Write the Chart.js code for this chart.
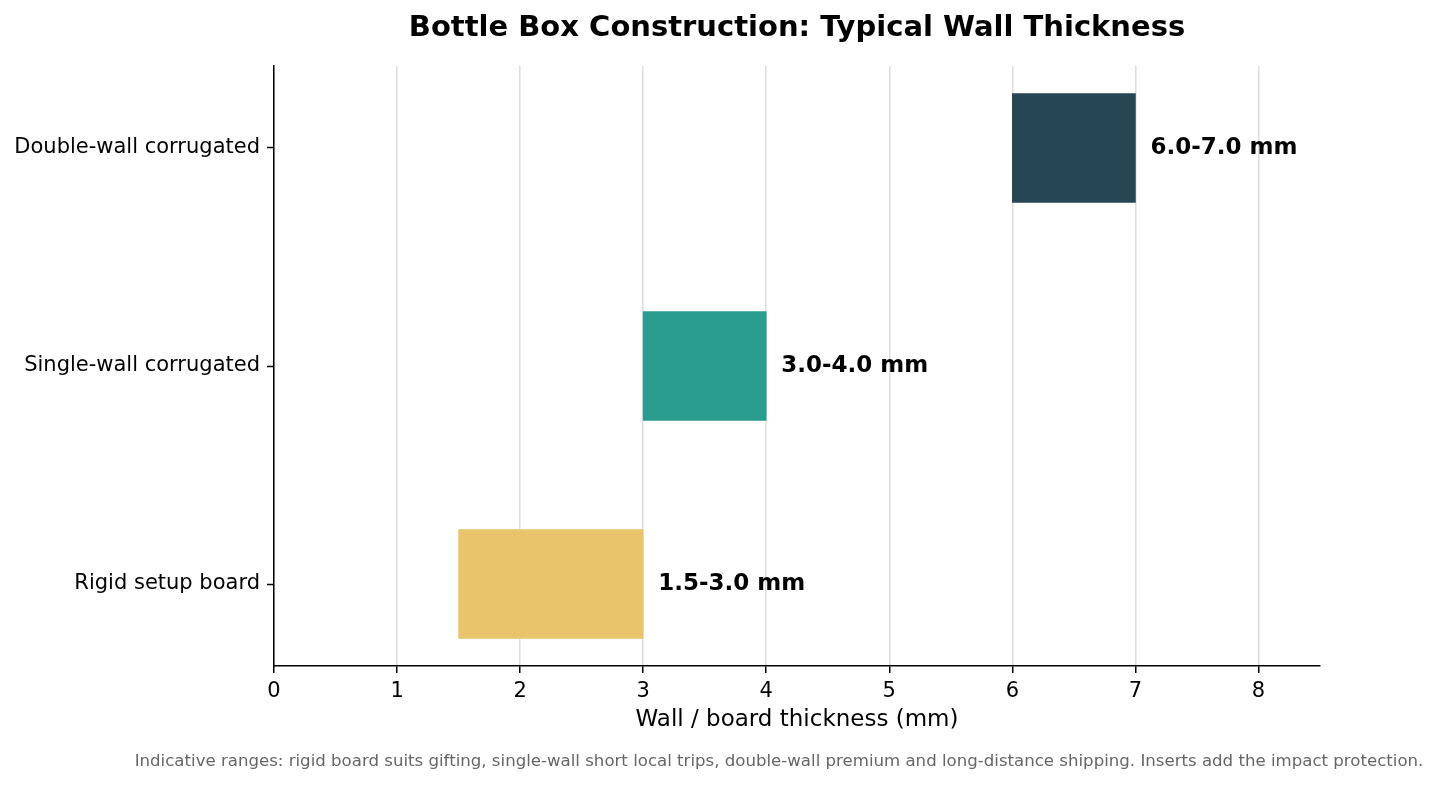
<!DOCTYPE html>
<html>
<head>
<meta charset="utf-8">
<script src="https://cdn.jsdelivr.net/npm/chart.js@4"></script>
<style>
  html, body { margin: 0; padding: 0; background: #fff; }
  #wrap { width: 1439px; height: 787px; position: relative; }
</style>
</head>
<body>
<div id="wrap"><canvas id="chart"></canvas></div>
<script>
const categories = ['Rigid setup board', 'Single-wall corrugated', 'Double-wall corrugated'];
const lowMM = [1.5, 3.0, 6.0];
const highMM = [3.0, 4.0, 7.0];
const barColors = ['#e9c46a', '#2a9d8f', '#264653'];
const xTicks = [0, 1, 2, 3, 4, 5, 6, 7, 8];

const titleText = 'Bottle Box Construction: Typical Wall Thickness';
const noteText = 'Indicative ranges: rigid board suits gifting, single-wall short local trips, double-wall premium and long-distance shipping. Inserts add the impact protection.';
const FONT = "'DejaVu Sans', sans-serif";

// title, footnote and end-of-bar labels
const textPlugin = {
  id: 'texts',
  afterDatasetsDraw(chart) {
    const ctx = chart.ctx;
    const meta = chart.getDatasetMeta(0);
    ctx.save();
    ctx.fillStyle = '#000';
    ctx.font = 'bold 23px ' + FONT;
    ctx.textBaseline = 'middle';
    ctx.textAlign = 'left';
    meta.data.forEach((bar, i) => {
      const label = lowMM[i].toFixed(1) + '-' + highMM[i].toFixed(1) + ' mm';
      ctx.fillText(label, bar.x + 15, bar.y);
    });
    ctx.textAlign = 'center';
    ctx.font = 'bold 29px ' + FONT;
    ctx.fillText(titleText, 797, 28);
    ctx.font = '16.6px ' + FONT;
    ctx.fillStyle = '#666';
    ctx.fillText(noteText, 779, 762);
    ctx.restore();
  }
};

new Chart(document.getElementById('chart'), {
  type: 'bar',
  data: {
    datasets: [{
      data: categories.map((c, i) => ({ x: [lowMM[i], highMM[i]], y: i })),
      backgroundColor: barColors,
      borderWidth: 0,
      barThickness: 109
    }]
  },
  plugins: [textPlugin],
  options: {
    indexAxis: 'y',
    responsive: true,
    maintainAspectRatio: false,
    animation: false,
    layout: { padding: { top: 66, right: 119, bottom: 45, left: 0 } },
    plugins: { legend: { display: false }, tooltip: { enabled: false } },
    scales: {
      x: {
        type: 'linear',
        min: 0,
        max: 8.5,
        afterBuildTicks: (axis) => { axis.ticks = xTicks.map(v => ({ value: v })); },
        afterFit: (axis) => { axis.height = 76; },
        border: { display: true, color: '#000', width: 1.5 },
        grid: { color: '#dddddd', lineWidth: 1.5, tickColor: '#000', tickLength: 7, tickWidth: 1.5 },
        ticks: { color: '#000', font: { family: FONT, size: 21 }, padding: 6 },
        title: { display: true, text: 'Wall / board thickness (mm)', color: '#000', font: { family: FONT, size: 23 }, padding: { top: 4, bottom: 8 } }
      },
      y: {
        type: 'linear',
        offset: false,
        min: -0.376,
        max: 2.376,
        afterBuildTicks: (axis) => { axis.ticks = categories.map((c, i) => ({ value: i })); },
        afterFit: (axis) => { axis.width = 274; },
        border: { display: true, color: '#000', width: 1.5 },
        grid: { offset: false, drawOnChartArea: false, tickColor: '#000', tickLength: 7, tickWidth: 1.5 },
        ticks: { color: '#000', font: { family: FONT, size: 21 }, padding: 7, callback: (v) => categories[v] }
      }
    }
  }
});
</script>
</body>
</html>
